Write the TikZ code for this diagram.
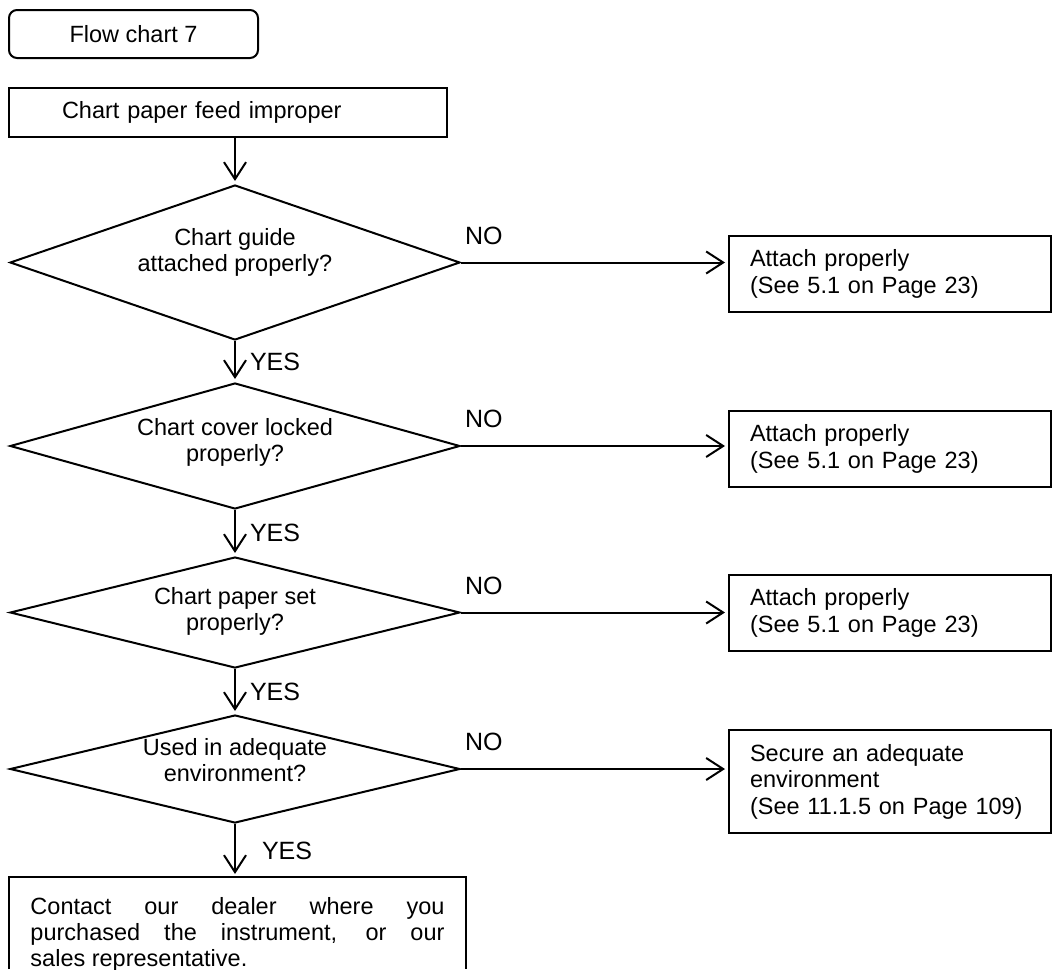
\documentclass[tikz,border=0pt]{standalone}
\usepackage{fontspec}
\setmainfont{Liberation Sans}
\usetikzlibrary{shapes.geometric,arrows.meta,positioning,calc}

\begin{document}
\begin{tikzpicture}[
    x=1pt, y=-1pt,
    font=\fontsize{23.5}{26.5}\selectfont,
    line width=2pt,
    tag/.style={rectangle, draw, rounded corners=8pt, minimum width=249pt, minimum height=48pt, inner sep=0pt},
    start/.style={rectangle, draw, minimum width=438pt, minimum height=49pt, inner sep=0pt, text width=332pt, align=left},
    query/.style={diamond, draw, minimum width=450pt, inner sep=0pt},
    qtext/.style={align=center, inner sep=0pt},
    action/.style={rectangle, draw, minimum width=322pt, minimum height=76pt, inner sep=0pt, text width=280pt, align=left},
    flow/.style={-{Straight Barb[length=17pt,width=22pt]}, shorten >=3pt},
    answer/.style={inner sep=0pt, font=\fontsize{25}{28}\selectfont},
]
\useasboundingbox (0,0) rectangle (1060,969);

\node[tag] (title) at (133.5,34) {Flow chart 7};
\node[start] (feed) at (228,112.5) {Chart paper feed improper};

% questions
\node[query, minimum height=155pt] (q1) at (235,262.5) {};
\node[qtext] (t1) at ($(q1)+(0,-10)$) {Chart guide\\attached properly?};
\node[query, minimum height=126pt] (q2) at (235,446) {};
\node[qtext] (t2) at ($(q2)+(0,-3.5)$) {Chart cover locked\\properly?};
\node[query, minimum height=111pt] (q3) at (235,612.5) {};
\node[qtext] (t3) at ($(q3)+(0,-1)$) {Chart paper set\\properly?};
\node[query, minimum height=108pt] (q4) at (235,769) {};
\node[qtext] (t4) at ($(q4)+(0,-9)$) {Used in adequate\\environment?};

% remedies
\node[action] (a1) at (890,274) {Attach properly\\(See 5.1 on Page 23)};
\node[action] (a2) at (890,449) {Attach properly\\(See 5.1 on Page 23)};
\node[action] (a3) at (890,613) {Attach properly\\(See 5.1 on Page 23)};
\node[action, minimum height=103pt] (a4) at (890,781.5) {Secure an adequate\\environment\\(See 11.1.5 on Page 109)};

% last step, box runs off the page
\node[anchor=north west, inner xsep=20.5pt, inner ysep=19.5pt, text width=414pt, align=justify,
      font=\fontsize{23.5}{26}\selectfont] (fin) at (9,877)
    {Contact our dealer where you\linebreak purchased the instrument, or our\linebreak sales representative.};
\coordinate (foot) at (0,969);
\draw (fin.west |- foot) |- (fin.north east) -- (fin.east |- foot);

\draw[flow] (feed.south -| q1.north) -- (q1.north);
\draw[flow] (q1.south) -- node[answer, right=14pt] {YES} (q2.north);
\draw[flow] (q2.south) -- node[answer, right=14pt] {YES} (q3.north);
\draw[flow] (q3.south) -- node[answer, right=14pt] {YES} (q4.north);
\draw[flow] (q4.south) -- node[answer, right=26pt] {YES} (fin.north -| q4.south);

\draw[flow] (q1.east) -- node[answer, pos=0, anchor=south west, xshift=3pt, yshift=17pt] {NO} (q1.east -| a1.west);
\draw[flow] (q2.east) -- node[answer, pos=0, anchor=south west, xshift=3pt, yshift=17pt] {NO} (q2.east -| a2.west);
\draw[flow] (q3.east) -- node[answer, pos=0, anchor=south west, xshift=3pt, yshift=17pt] {NO} (q3.east -| a3.west);
\draw[flow] (q4.east) -- node[answer, pos=0, anchor=south west, xshift=3pt, yshift=17pt] {NO} (q4.east -| a4.west);

\end{tikzpicture}
\end{document}
